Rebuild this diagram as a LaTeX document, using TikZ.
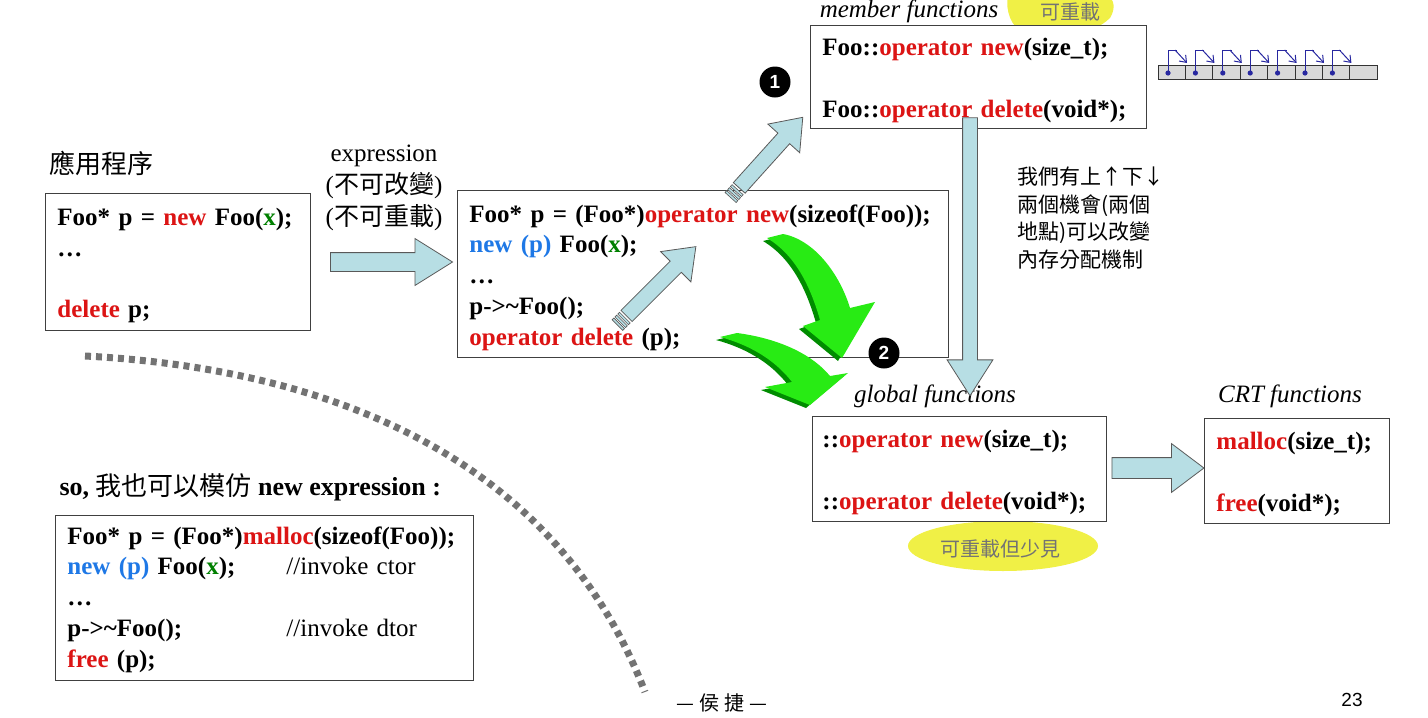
\documentclass[tikz,border=0pt]{standalone}
\usepackage{fontspec}
\setmainfont{Liberation Serif}
\newfontfamily\cjk{Noto Sans CJK TC}
\newfontfamily\numfont{Liberation Sans}
\usetikzlibrary{arrows.meta,shapes.arrows,positioning,calc}

\definecolor{opred}{RGB}{220,20,20}
\definecolor{plblue}{RGB}{30,120,230}
\definecolor{argx}{RGB}{0,128,0}
\definecolor{arrblue}{RGB}{183,222,228}
\definecolor{litegreen}{RGB}{40,235,20}
\definecolor{darkgreen}{RGB}{0,140,0}
\definecolor{hookblue}{RGB}{40,40,160}
\definecolor{marker}{RGB}{240,240,70}

\newcommand{\opr}[1]{\textcolor{opred}{#1}}
\newcommand{\plc}[1]{\textcolor{plblue}{#1}}
\newcommand{\xarg}{\textcolor{argx}{x}}
\newcommand{\tilda}{\textasciitilde}
\newcommand{\lead}{\rule{0pt}{25pt}}
\newcommand{\codefont}{\fontsize{25}{30.8}\selectfont\bfseries}

\begin{document}
\begin{tikzpicture}[
    x=1pt, y=-1pt,
    codebox/.style={draw=black!75, line width=0.9pt, fill=white, anchor=north west, align=left,
        inner xsep=12pt, inner ysep=0pt, font=\codefont},
    blockarr/.style={single arrow, draw=black!65, fill=arrblue, line width=0.8pt, inner xsep=0pt},
    stripe/.style={draw=black!65, fill=arrblue, line width=0.6pt},
    tag/.style={font=\fontsize{25}{27}\selectfont\itshape},
    num/.style={circle, fill=black, text=white, inner sep=0pt, minimum size=31pt,
        font=\numfont\bfseries\fontsize{19}{19}\selectfont},
    cell/.style={draw=black!80, fill=black!15, line width=0.8pt},
    dotline/.style={draw=black!55, line width=7pt, dash pattern=on 6pt off 5pt},
    note/.style={text=black!55, font=\cjk\fontsize{20}{22}\selectfont}
]
\clip (0,0) rectangle (1428,718);

% highlights
\fill[marker] (1008,-5) .. controls (1002,30) and (1035,47) .. (1060,40)
    .. controls (1082,34) and (1100,28) .. (1110,18) .. controls (1116,8) and (1114,0) .. (1108,-5) -- cycle;
\fill[marker] (1003,546) ellipse [x radius=95pt, y radius=25pt];
\node[note] (hl1) at (1070,12) {可重載};
\node[note] (hl2) at (1000,549) {可重載但少見};

% boxes
\node[codebox, text width=241pt, minimum height=137pt] (app) at (45,193)
    {\lead Foo* p = \opr{new} Foo(\xarg);\\ \ldots\\[30.8pt] \opr{delete} p;};
\node[codebox, text width=467pt, minimum height=167pt] (mid) at (457,190)
    {\lead Foo* p = (Foo*)\opr{operator new}(sizeof(Foo));\\ \plc{new (p)} Foo(\xarg);\\ \ldots\\
     p->\tilda Foo();\\ \opr{operator delete} (p);};
\node[codebox, text width=312pt, minimum height=103pt] (member) at (810,25)
    {\lead Foo::\opr{operator new}(size\_t);\\[30.8pt] Foo::\opr{operator delete}(void*);};
\node[codebox, text width=274pt, minimum height=105pt, inner xsep=10pt] (glob) at (812,416)
    {\lead ::\opr{operator new}(size\_t);\\[30.8pt] ::\opr{operator delete}(void*);};
\node[codebox, text width=161pt, minimum height=105pt] (crt) at (1204,418)
    {\lead\opr{malloc}(size\_t);\\[30.8pt] \opr{free}(void*);};
\node[codebox, text width=394pt, minimum height=165pt] (mimic) at (55,515)
    {\rule{0pt}{21pt}Foo* p = (Foo*)\opr{malloc}(sizeof(Foo));\\
     \makebox[219pt][l]{\plc{new (p)} Foo(\xarg);}{\mdseries //invoke ctor}\\ \ldots\\
     \makebox[219pt][l]{p->\tilda Foo();}{\mdseries //invoke dtor}\\ \opr{free} (p);};

% labels
\node[anchor=west, font=\cjk\fontsize{26}{28}\selectfont] (apptitle) at (46,163) {應用程序};
\node[align=center, font=\fontsize{25}{32}\selectfont] (expr) at (384,188)
    {expression\\ ({\cjk 不可改變})\\ ({\cjk 不可重載})};
\node[tag] (memtag) at (909,11) {member functions};
\node[tag] (globtag) at (935,396) {global functions};
\node[tag] (crttag) at (1290,396) {CRT functions};
\node[anchor=west, align=left, font=\cjk\fontsize{21}{27.5}\selectfont] (remark) at (1014,218)
    {我們有上↑下↓\\ 兩個機會(兩個\\ 地點)可以改變\\ 內存分配機制};
\node[anchor=west, font=\fontsize{26}{28}\selectfont] (mimictitle) at (56,487)
    {\textbf{so,} {\cjk 我也可以模仿} \textbf{new expression :}};

% memory chunks
\foreach \i in {0,...,7}
    \draw[cell] ({1158+27.4*\i},65) rectangle +(27.4,14);
\foreach \i in {0,...,6} {
    \fill[hookblue] ({1168+27.4*\i},73) circle (2.6pt);
    \draw[hookblue, line width=1pt] ({1168+27.4*\i},73) |- ({1177+27.4*\i},50);
    \draw[hookblue, line width=1pt, -{Straight Barb[length=6pt,width=9pt]}]
        ({1175+27.4*\i},50) -- ({1187+27.4*\i},63);
}

% dotted divider
\draw[dotline] (85,356) .. controls (350,370) and (560,470) .. (645,692);

% block arrows
\node[blockarr, minimum height=122pt, inner ysep=9pt, single arrow head extend=14pt,
    single arrow tip angle=64] (toMid) at (384,262) {};
\node[blockarr, minimum height=278pt, inner ysep=7pt, single arrow head extend=15.5pt,
    single arrow tip angle=65, rotate=-90] (down) at (970,251) {};
\node[blockarr, minimum height=92pt, inner ysep=10pt, single arrow head extend=14pt,
    single arrow tip angle=74] (toCRT) at (1151,468) {};
\node[blockarr, minimum height=95pt, inner ysep=7.5pt, single arrow head extend=13.5pt,
    single arrow tip angle=74, rotate=48] (upA) at (767.5,156.5) {};
\node[blockarr, minimum height=98pt, inner ysep=7.5pt, single arrow head extend=13.5pt,
    single arrow tip angle=74, rotate=45] (upB) at (657.5,285) {};
\foreach \a/\r in {upA/48, upB/45}
    \foreach \s in {2,6,10}
        \draw[stripe, shift={(\a.tail)}, rotate=\r] (-\s,-7.5) rectangle ++(-2.5,15);

% green arrows
\foreach \c/\dx/\dy in {darkgreen/-4/3, litegreen/0/0} {
    \fill[\c, shift={(\dx,\dy)}] (767,238) -- (783,234) .. controls (815,240) and (840,275) .. (850,308)
        -- (875,302) -- (842,358) -- (803,326) -- (820,320) .. controls (810,285) and (795,255) .. (767,238) -- cycle;
    \fill[\c, shift={(\dx,\dy)}] (720,337) -- (737,333) .. controls (775,338) and (810,352) .. (830,376)
        -- (848,373) -- (810,405) -- (765,387) -- (792,382) .. controls (775,360) and (750,345) .. (720,337) -- cycle;
}

% step numbers
\node[num] (one) at (775,82) {1};
\node[num] (two) at (884,353) {2};

% footer
\node[font=\cjk\fontsize{20}{22}\selectfont] (author) at (722,703) {—\hspace{5pt}侯\hspace{5pt}捷\hspace{5pt}—};
\node[font=\numfont\fontsize{19}{20}\selectfont] (page) at (1352,700) {23};
\end{tikzpicture}
\end{document}
